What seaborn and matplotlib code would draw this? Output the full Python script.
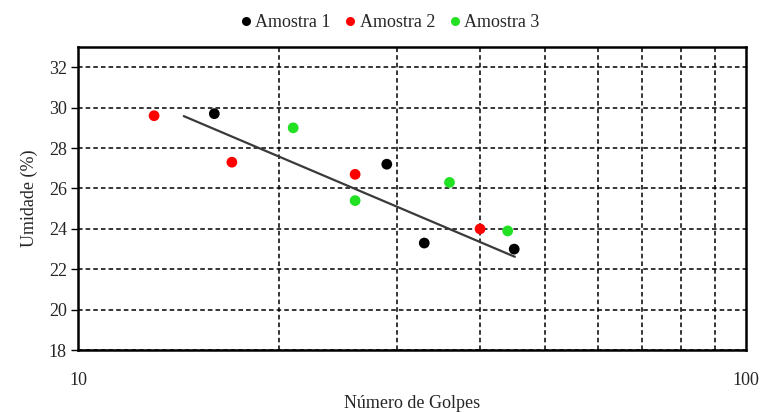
import numpy as np
import pandas as pd
import matplotlib
matplotlib.use("Agg")
import matplotlib.pyplot as plt
import seaborn as sns
from matplotlib.ticker import FixedLocator, NullFormatter, FixedFormatter
from matplotlib.lines import Line2D

# Data
a1_golpes = [16, 29, 33, 45]
a1_umidade = [29.7, 27.2, 23.3, 23.0]
a2_golpes = [13, 17, 26, 40]
a2_umidade = [29.6, 27.3, 26.7, 24.0]
a3_golpes = [21, 26, 36, 44]
a3_umidade = [29.0, 25.4, 26.3, 23.9]
series_names = ["Amostra 1", "Amostra 2", "Amostra 3"]
trend_golpes = [14.4, 45.1]
trend_umidade = [29.58, 22.62]
y_ticks = [18, 20, 22, 24, 26, 28, 30, 32]

sns.set_theme(style="white")
plt.rcParams['font.family'] = ['Liberation Serif', 'DejaVu Serif']

df = pd.DataFrame({
    "golpes": a1_golpes + a2_golpes + a3_golpes,
    "umidade": a1_umidade + a2_umidade + a3_umidade,
    "amostra": [series_names[0]] * len(a1_golpes) + [series_names[1]] * len(a2_golpes)
               + [series_names[2]] * len(a3_golpes),
})
palette = {series_names[0]: "#000000", series_names[1]: "#FF0000", series_names[2]: "#22E022"}

fig = plt.figure(figsize=(7.61, 4.12), dpi=100)
ax = fig.add_axes([0.1025, 0.150, 0.8775, 0.736])

ax.set_xscale("log")
ax.set_xlim(10, 100)
ax.set_ylim(18, 33)

# grid
ax.xaxis.set_major_locator(FixedLocator([10, 100]))
ax.xaxis.set_major_formatter(FixedFormatter(["10", "100"]))
ax.xaxis.set_minor_locator(FixedLocator([20, 30, 40, 50, 60, 70, 80, 90]))
ax.xaxis.set_minor_formatter(NullFormatter())
ax.set_yticks(y_ticks)
ax.grid(False)
ax.grid(which="minor", axis="x", color="black", linestyle=(0, (3, 2)), linewidth=1.1)
ax.grid(which="major", axis="y", color="black", linestyle=(0, (3, 2)), linewidth=1.1)
ax.set_axisbelow(True)

sns.lineplot(x=trend_golpes, y=trend_umidade, ax=ax, color="#3a3a3a", linewidth=1.6,
             legend=False, zorder=3)
sns.scatterplot(data=df, x="golpes", y="umidade", hue="amostra", palette=palette,
                s=60, edgecolor="none", ax=ax, legend=False, zorder=4)

for sp in ax.spines.values():
    sp.set_visible(True)
    sp.set_color("black")
    sp.set_linewidth(1.8)

ax.tick_params(axis="y", which="major", direction="out", length=5, width=1, color="black",
               labelsize=13, pad=3, left=True)
ax.tick_params(axis="x", which="both", length=0, labelsize=13, pad=16)

ax.set_xlabel("Número de Golpes", fontsize=13, labelpad=4)
ax.set_ylabel("Umidade (%)", fontsize=13, labelpad=8)

handles = [Line2D([], [], marker="o", linestyle="none", markersize=6.5,
                  markerfacecolor=palette[n], markeredgecolor="none") for n in series_names]
fig.legend(handles, series_names, loc="upper center", bbox_to_anchor=(0.51, 1.005), ncol=3,
           frameon=False, fontsize=13, handletextpad=0.0, columnspacing=0.6,
           handlelength=1.0)

fig.savefig("out.png", dpi=100)
